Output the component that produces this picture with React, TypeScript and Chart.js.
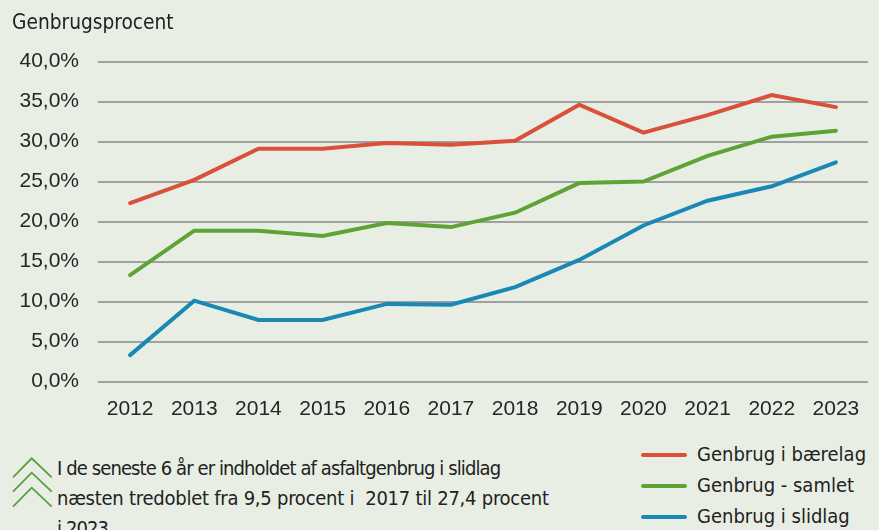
import React, { useEffect, useRef } from "react";
import { Chart, registerables } from "chart.js";

Chart.register(...registerables);

const years = ["2012", "2013", "2014", "2015", "2016", "2017", "2018", "2019", "2020", "2021", "2022", "2023"];
const baerelag = [22.3, 25.2, 29.1, 29.1, 29.8, 29.6, 30.1, 34.6, 31.1, 33.3, 35.8, 34.3];
const samlet = [13.3, 18.85, 18.85, 18.2, 19.8, 19.3, 21.1, 24.8, 25.0, 28.2, 30.6, 31.35];
const slidlag = [3.3, 10.1, 7.7, 7.7, 9.7, 9.6, 11.8, 15.2, 19.5, 22.6, 24.4, 27.4];
const seriesNames = ["Genbrug i bærelag", "Genbrug - samlet", "Genbrug i slidlag"];
const seriesColors = ["#d9513a", "#5fa336", "#1a88b4"];
const axisTitle = "Genbrugsprocent";
const noteLines = [
  "I de seneste 6 år er indholdet af asfaltgenbrug i slidlag",
  "næsten tredoblet fra 9,5 procent i  2017 til 27,4 procent",
  "i 2023.",
];
const noteSpacing = [-0.9, -0.25, -0.9];

const BG = "#e8eee4";
const CONDENSED = "'DejaVu Sans Condensed', 'DejaVu Sans', sans-serif";

export default function App() {
  const ref = useRef<HTMLCanvasElement | null>(null);

  useEffect(() => {
    if (!ref.current) return;
    const CH = 430;
    const chart = new Chart(ref.current, {
      type: "line",
      data: {
        labels: years,
        datasets: [baerelag, samlet, slidlag].map((d, i) => ({
          label: seriesNames[i],
          data: d,
          borderColor: seriesColors[i],
          backgroundColor: seriesColors[i],
          borderWidth: 4,
          pointRadius: 0,
          tension: 0,
          borderCapStyle: "round" as const,
        })),
      },
      options: {
        animation: false,
        responsive: false,
        maintainAspectRatio: false,
        layout: { padding: { left: 0, top: 61.5, right: 11, bottom: 0 } },
        plugins: { legend: { display: false }, tooltip: { enabled: false }, title: { display: false } },
        scales: {
          x: {
            offset: true,
            grid: { display: false, drawTicks: false },
            border: { display: false },
            ticks: {
              padding: 15,
              color: "#262626",
              font: { family: "'Liberation Sans', Arial, sans-serif", size: 21 },
              maxRotation: 0,
              autoSkip: false,
            },
            afterFit: (s: any) => {
              s.height = CH - 381.5;
            },
          },
          y: {
            min: 0,
            max: 40,
            grid: { color: "#a0a0a0", lineWidth: 2, drawTicks: false },
            border: { display: false },
            ticks: {
              stepSize: 5,
              padding: 19,
              color: "#262626",
              font: { family: "'Liberation Sans', Arial, sans-serif", size: 21 },
              callback: (v: any) => Number(v).toFixed(1).replace(".", ",") + "%",
            },
            afterFit: (s: any) => {
              s.width = 98;
            },
          },
        },
      },
    });
    return () => chart.destroy();
  }, []);

  const legendTops = [455, 486, 516.5];

  return (
    <div
      style={{
        position: "absolute",
        left: 0,
        top: 0,
        width: 879,
        height: 530,
        overflow: "hidden",
        background: BG,
        fontFamily: CONDENSED,
        color: "#222",
      }}
    >
      <canvas ref={ref} width={879} height={430} style={{ position: "absolute", left: 0, top: 0 }} />
      <div
        style={{
          position: "absolute",
          left: 12,
          top: 11,
          fontSize: 20.7,
          lineHeight: "23px",
          fontStretch: "condensed",
          whiteSpace: "nowrap",
        }}
      >
        {axisTitle}
      </div>
      <svg width={60} height={70} style={{ position: "absolute", left: 0, top: 445 }}>
        {[13.3, 27.7, 42.7].map((y, i) => (
          <polyline
            key={i}
            points={`13,${y + 19} 31.7,${y} 51.7,${y + 19}`}
            fill="none"
            stroke="#5a9e3e"
            strokeWidth={1.8}
          />
        ))}
      </svg>
      <div
        style={{
          position: "absolute",
          left: 57,
          top: 453,
          fontSize: 20,
          lineHeight: "30px",
          whiteSpace: "pre",
          color: "#222",
        }}
      >
        {noteLines.map((l, i) => (
          <div key={i} style={{ letterSpacing: noteSpacing[i] + "px" }}>
            {l}
          </div>
        ))}
      </div>
      {seriesNames.map((n, i) => (
        <div key={n}>
          <div
            style={{
              position: "absolute",
              left: 641,
              top: legendTops[i] - 2,
              width: 46,
              height: 4,
              borderRadius: 2,
              background: seriesColors[i],
            }}
          />
          <div
            style={{
              position: "absolute",
              left: 697,
              top: legendTops[i] - 13,
              fontSize: 20,
              lineHeight: "24px",
              whiteSpace: "nowrap",
            }}
          >
            {n}
          </div>
        </div>
      ))}
    </div>
  );
}
